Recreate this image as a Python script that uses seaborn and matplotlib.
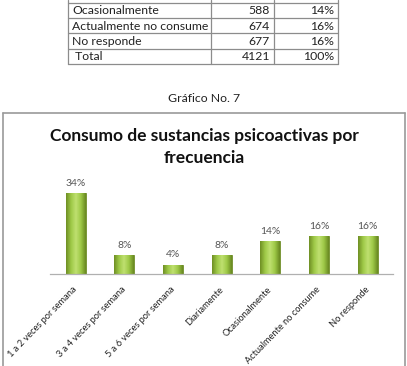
import numpy as np
import pandas as pd
import matplotlib
matplotlib.use("Agg")
import matplotlib.pyplot as plt
from matplotlib.colors import LinearSegmentedColormap
from matplotlib.lines import Line2D
import seaborn as sns

# bar chart data
categorias = ["1 a 2 veces por semana", "3 a 4 veces por semana", "5 a 6 veces por semana",
              "Diariamente", "Ocasionalmente", "Actualmente no consume", "No responde"]
porcentajes = [34, 8, 4, 8, 14, 16, 16]

# table rows visible above the chart
tabla_labels = ["Ocasionalmente", "Actualmente no consume", "No responde", " Total"]
tabla_n = [588, 674, 677, 4121]
tabla_pct = ["14%", "16%", "16%", "100%"]

df = pd.DataFrame({"cat": categorias, "pct": porcentajes})

sns.set_theme(style="white")
plt.rcParams["font.family"] = ["Lato", "DejaVu Sans"]

W, H = 407, 366
fig = plt.figure(figsize=(W / 100, H / 100), dpi=100)
fig.patch.set_facecolor("white")

# background axes in pixel coords for table, caption and frame
bg = fig.add_axes([0, 0, 1, 1])
bg.set_xlim(0, W)
bg.set_ylim(H, 0)
bg.axis("off")

# table
tcol = "#8c8c8c"
row_y = [3, 18, 33, 49, 64]
for y in row_y:
    bg.add_line(Line2D([68, 338], [y, y], color=tcol, lw=0.9))
for x in [68, 211, 274, 338]:
    bg.add_line(Line2D([x, x], [0, 64], color=tcol, lw=0.9))
for i, (lab, n, p) in enumerate(zip(tabla_labels, tabla_n, tabla_pct)):
    yc = (row_y[i] + row_y[i + 1]) / 2 + 0.5
    bg.text(72, yc, lab, fontsize=8.8, va="center", ha="left", color="#222222")
    bg.text(270, yc, f"{n}", fontsize=8.8, va="center", ha="right", color="#222222")
    bg.text(334, yc, p, fontsize=8.8, va="center", ha="right", color="#222222")

bg.text(204, 98, "Gráfico No. 7", fontsize=8.8, va="center", ha="center", color="#222222")

# chart frame (bottom edge falls below the picture, as in the reference crop)
frame_col = "#9a9a9a"
bg.add_line(Line2D([3, 405], [113, 113], color=frame_col, lw=1.2))
bg.add_line(Line2D([3, 3], [113, H], color=frame_col, lw=1.2))
bg.add_line(Line2D([405, 405], [113, H], color=frame_col, lw=1.2))

bg.text(204, 136, "Consumo de sustancias psicoactivas por", fontsize=12.5,
        fontweight="bold", ha="center", va="center", color="#111111")
bg.text(204, 158, "frecuencia", fontsize=12.5, fontweight="bold",
        ha="center", va="center", color="#111111")

# bar axes
ax = fig.add_axes([50 / W, (H - 274) / H, (393 - 50) / W, (274 - 179) / H])
sns.barplot(data=df, x="cat", y="pct", ax=ax, color="#9bc446", width=0.41,
            edgecolor="#6e8c2a", linewidth=0.6, saturation=1)
ax.set_ylim(0, 40)
ax.set_xlim(-0.53, 6.52)
ax.set_xlabel("")
ax.set_ylabel("")
ax.set_yticks([])
ax.patch.set_alpha(0)
for s in ["top", "right", "left"]:
    ax.spines[s].set_visible(False)
ax.spines["bottom"].set_color("#b0b0b0")
ax.spines["bottom"].set_linewidth(0.9)

# gradient fill for each bar
cmap = LinearSegmentedColormap.from_list("g", ["#6f8f24", "#9ec947", "#bfe070", "#9ec947", "#6a8a22"])
grad = np.linspace(0, 1, 64).reshape(1, -1)
for patch in ax.patches:
    x0, y0 = patch.get_x(), patch.get_y()
    w, h = patch.get_width(), patch.get_height()
    im = ax.imshow(grad, cmap=cmap, aspect="auto", extent=(x0, x0 + w, y0, y0 + h),
                   zorder=patch.get_zorder() + 0.1)
    im.set_clip_path(patch)
ax.set_xlim(-0.53, 6.52)
ax.set_ylim(0, 40)

for patch, v in zip(ax.patches, porcentajes):
    ax.text(patch.get_x() + patch.get_width() / 2, patch.get_height() + 2.2, f"{v}%",
            ha="center", va="bottom", fontsize=7.5, color="#555555")

ax.set_xticks(range(len(categorias)))
ax.set_xticklabels(categorias, rotation=46, ha="right", va="center", rotation_mode="anchor",
                   fontsize=6.7, color="#222222")
ax.tick_params(axis="x", length=0, pad=10)

fig.savefig("out.png", dpi=100)
